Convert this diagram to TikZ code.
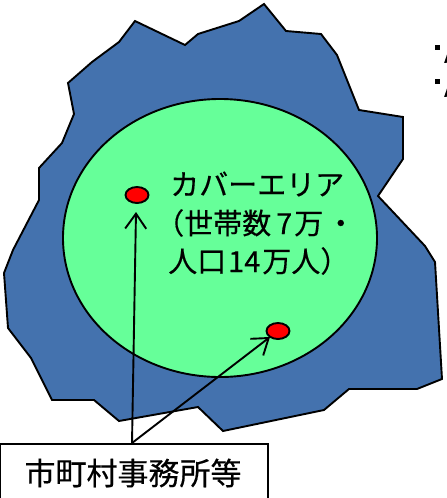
\documentclass[tikz,border=0pt]{standalone}
\usepackage{fontspec}
\setmainfont[FakeBold=0.35]{Noto Sans CJK JP}
\usetikzlibrary{arrows.meta,shapes.geometric}
\tikzset{
  region/.style={draw=black,line width=1.9pt,fill=regionblue,line join=miter},
  coverage/.style={draw=black,line width=1.9pt,fill=covergreen},
  office/.style={ellipse,draw=black,line width=1.9pt,fill=red,minimum width=23pt,minimum height=16pt,inner sep=0pt},
  link/.style={draw=black,line width=1.9pt,-{Straight Barb[length=15pt,width=21pt,line width=1.9pt]}},
  labelbox/.style={draw=black,line width=1.9pt,fill=white,minimum width=268pt,minimum height=70pt,inner sep=0pt,text=black},
  captext/.style={anchor=west,inner sep=0pt,font=\fontsize{29pt}{39pt}\selectfont}
}
\definecolor{regionblue}{HTML}{4472AE}
\definecolor{covergreen}{HTML}{66FF99}
\begin{document}
\begin{tikzpicture}[x=1pt,y=-1pt]
\useasboundingbox (0,0) rectangle (447,498);
\clip (0,0) rectangle (447,498);
\draw[region] (264,4) -- (286,31) -- (321,34) -- (337,55) -- (359,110) -- (403,117) -- (403,159) -- (378,196) -- (425,246) -- (435,262) -- (442,379) -- (417,389) -- (349,389) -- (324,410) -- (223,431) -- (198,407) -- (119,421) -- (94,400) -- (52,400) -- (31,358) -- (8,328) -- (4,273) -- (13,250) -- (39,200) -- (39,168) -- (62,143) -- (74,114) -- (68,83) -- (92,62) -- (119,42) -- (135,21) -- (185,45) -- (198,34) -- (239,21) -- cycle;
\node[coverage,ellipse,minimum width=314pt,minimum height=278pt,inner sep=0pt] (area) at (220,238) {};
\node[office] (o1) at (137,195) {};
\node[office] (o2) at (278,331) {};
\node[captext] (cap) at (170,184) {カバーエリア};
\node[captext] (cap2) at (155,223) {（世帯数\hspace{5pt}7\hspace{2pt}万\hspace{3pt}・};
\node[captext] (cap3) at (168,261) {人口\hspace{2pt}14\hspace{2pt}万人）};
\node[labelbox,anchor=north west] (box) at (-1,443) {};
\node[inner sep=0pt,font=\fontsize{31pt}{36pt}\selectfont] (boxtext) at (133,473) {市町村事務所等};
\coordinate (src) at (132,443);
\draw[link] (src) -- (136,212);
\draw[link] (src) -- (270,337);
\node[fill=black,minimum size=5pt,inner sep=0pt] (b1) at (437,47) {};
\node[fill=black,minimum size=5pt,inner sep=0pt] (b2) at (437,81) {};
\node[anchor=west,inner sep=0pt,font=\fontsize{24pt}{28pt}\selectfont] (t1) at (444,54) {A};
\node[anchor=west,inner sep=0pt,font=\fontsize{24pt}{28pt}\selectfont] (t2) at (444,88) {A};
\end{tikzpicture}
\end{document}
